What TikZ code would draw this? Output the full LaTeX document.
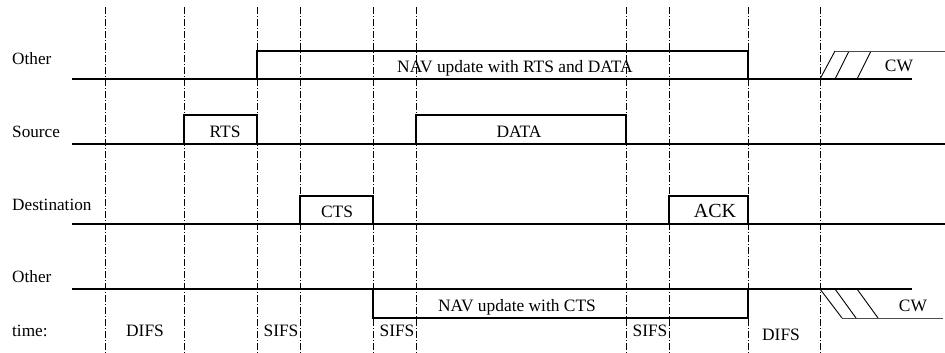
\documentclass[tikz,border=0pt]{standalone}
\usepackage{fontspec}
\setmainfont{Liberation Serif}
\begin{document}
\begin{tikzpicture}[x=1pt,y=-1pt,
  sig/.style={line width=1.6pt, line cap=rect},
  thin/.style={line width=0.9pt},
  grid/.style={line width=0.8pt, dash pattern=on 7pt off 2pt on 1pt off 2pt},
  lbl/.style={anchor=base, inner sep=0pt, font=\fontsize{17.4}{20}\selectfont},
  lblw/.style={anchor=base west, inner sep=0pt, font=\fontsize{17.2}{20}\selectfont}]
\useasboundingbox (0,0) rectangle (945,353);
% vertical time markers
\foreach \x in {105,184,257,300,373,416,626,669,748,820}
  \draw[grid] (\x,7) -- (\x,353);
% Other (top)
\draw[sig] (73,79) -- (911,79);
\draw[sig] (257,79) -- (257,51) -- (748,51) -- (748,79);
\draw[thin] (820,79) -- (835,51) (835,79) -- (849,51) (857,79) -- (871,51);
\draw[thin, black!70] (835,51) -- (945,51);
% Source
\draw[sig] (73,144) -- (945,144);
\draw[sig] (184,144) -- (184,115) -- (257,115) -- (257,144);
\draw[sig] (416,144) -- (416,115) -- (626,115) -- (626,144);
% Destination
\draw[sig] (73,224) -- (945,224);
\draw[sig] (300,224) -- (300,196) -- (373,196) -- (373,224);
\draw[sig] (669,224) -- (669,196) -- (748,196) -- (748,224);
% Other (bottom)
\draw[sig] (73,289) -- (911,289);
\draw[sig] (373,289) -- (373,318) -- (748,318) -- (748,289);
\draw[thin] (820,289) -- (842,318) (835,289) -- (856,318) (857,289) -- (878,318);
\draw[thin, black!70] (842,318) -- (943,318);
% row labels
\node[lblw] (l1) at (12,65) {Other};
\node[lblw] (l2) at (12,137) {Source};
\node[lblw] (l3) at (12,210) {Destination};
\node[lblw] (l4) at (12,282) {Other};
\node[lblw] (l5) at (12,336) {time:};
% frame labels
\node[lbl] (nav1) at (515,73) {NAV update with RTS and DATA};
\node[lbl] (cw1) at (899,72) {CW};
\node[lbl] (rts) at (225,137) {RTS};
\node[lbl] (data) at (519,137) {DATA};
\node[lbl] (cts) at (337,217) {CTS};
\node[lbl, font=\fontsize{20}{23}\selectfont] (ack) at (715,217) {ACK};
\node[lbl] (nav2) at (517,311) {NAV update with CTS};
\node[lbl] (cw2) at (913,311) {CW};
% time labels
\node[lbl] (t1) at (145,336) {DIFS};
\node[lbl] (t2) at (281,336) {SIFS};
\node[lbl] (t3) at (397,336) {SIFS};
\node[lbl] (t4) at (650,336) {SIFS};
\node[lbl] (t5) at (781,340) {DIFS};
\end{tikzpicture}
\end{document}
